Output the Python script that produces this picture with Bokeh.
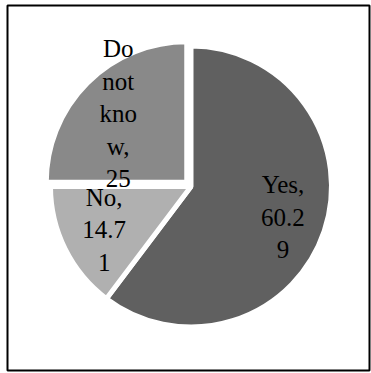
import math
from bokeh.plotting import figure
from bokeh.models import Range1d, ColumnDataSource
from bokeh.core.properties import value
from bokeh.embed import file_html
from bokeh.resources import INLINE

# ---- data ----
categories = ["Yes", "No", "Do not know"]
values = [60.29, 14.71, 25.0]
labels = ["Yes,\n60.2\n9", "No,\n14.7\n1", "Do\nnot\nkno\nw,\n25"]
colors = ["#606060", "#b0b0b0", "#898989"]
explode = [0.0, 0.0, 6.0]

# ---- layout (pixel space, y measured downward then flipped) ----
W, H = 371, 373
CX, CY = 190.5, 186.0
R = 140.5
LABEL_R = 97.0

p = figure(width=W, height=H, output_backend="svg", toolbar_location=None,
           x_range=Range1d(7, 369), y_range=Range1d(H - 370, H - 5),
           min_border_left=7, min_border_top=5, min_border_right=2, min_border_bottom=3)
p.axis.visible = False
p.grid.visible = False
p.outline_line_color = "black"
p.outline_line_width = 2
p.background_fill_color = "white"
p.border_fill_color = "white"

total = sum(values)
xs, ys, starts, ends, lx, ly = [], [], [], [], [], []
theta = 0.0  # clockwise from 12 o'clock, degrees
for v, e in zip(values, explode):
    span = v / total * 360.0
    mid = theta + span / 2.0
    dx, dy = math.sin(math.radians(mid)), math.cos(math.radians(mid))
    cx, cy = CX + e * dx, (H - CY) + e * dy
    xs.append(cx)
    ys.append(cy)
    starts.append(math.radians(90 - (theta + span)))
    ends.append(math.radians(90 - theta))
    lx.append(cx + LABEL_R * dx)
    ly.append(cy + LABEL_R * dy)
    theta += span

src = ColumnDataSource(dict(x=xs, y=ys, start=starts, end=ends, color=colors,
                            lx=lx, ly=ly, label=labels, cat=categories))

p.wedge(x="x", y="y", radius=R, radius_units="screen", start_angle="start", end_angle="end",
        fill_color="color", line_color="white", line_width=5, source=src)

p.text(x="lx", y="ly", text="label", source=src, text_align="center", text_baseline="middle",
       text_font=value("Times New Roman"), text_font_size="25px",
       text_color="black", text_line_height=1.2)

open("out.html", "w").write(file_html(p, INLINE))
